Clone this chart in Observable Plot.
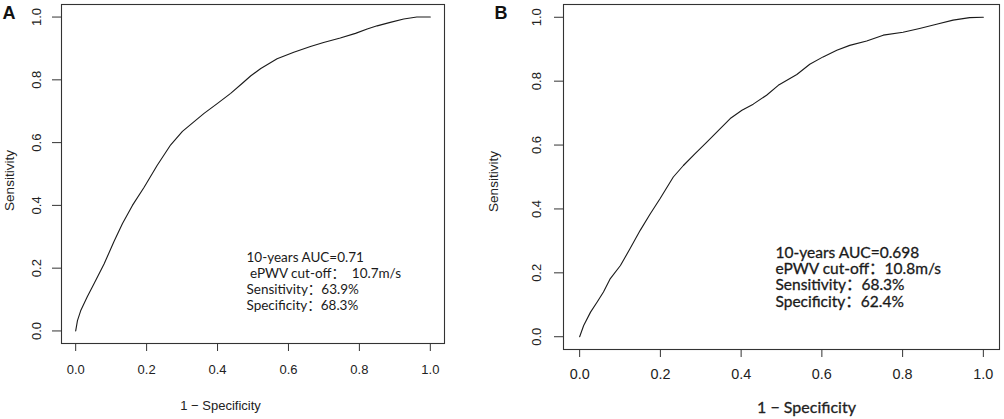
<!DOCTYPE html>
<html><head><meta charset="utf-8">
<script src="https://cdn.jsdelivr.net/npm/d3@7"></script>
<script src="https://cdn.jsdelivr.net/npm/@observablehq/plot@0.6"></script>
<style>
body{margin:0;background:#fff;}
#wrap{position:relative;width:1004px;height:419px;overflow:hidden;background:#fff;}
#wrap svg{position:absolute;top:0;overflow:visible;}
</style></head><body><div id="wrap"></div>
<script>
// ---- data ----
const ticks = [0, 0.2, 0.4, 0.6, 0.8, 1.0];
const tickLabels = ["0.0", "0.2", "0.4", "0.6", "0.8", "1.0"];
const panelLetters = ["A", "B"];
const xTitle = "1 \u2212 Specificity";
const yTitle = "Sensitivity";

const aFpr = [0, 0.005, 0.014, 0.033, 0.052, 0.080, 0.108, 0.132, 0.160, 0.193, 0.230, 0.268, 0.301, 0.334, 0.362, 0.400, 0.437, 0.470, 0.494, 0.522, 0.568, 0.615, 0.662, 0.699, 0.746, 0.789, 0.822, 0.850, 0.887, 0.925, 0.962, 1.0];
const aTpr = [0, 0.033, 0.064, 0.110, 0.151, 0.213, 0.285, 0.342, 0.400, 0.458, 0.528, 0.593, 0.636, 0.667, 0.693, 0.725, 0.757, 0.789, 0.813, 0.836, 0.867, 0.888, 0.906, 0.919, 0.933, 0.948, 0.962, 0.972, 0.983, 0.994, 1.0, 1.0];

const bFpr = [0, 0.010, 0.027, 0.043, 0.059, 0.076, 0.101, 0.125, 0.150, 0.175, 0.199, 0.232, 0.257, 0.286, 0.315, 0.344, 0.373, 0.402, 0.430, 0.463, 0.492, 0.538, 0.570, 0.603, 0.637, 0.669, 0.711, 0.752, 0.801, 0.842, 0.884, 0.925, 0.966, 1.0];
const bTpr = [0, 0.035, 0.077, 0.108, 0.140, 0.182, 0.223, 0.276, 0.333, 0.385, 0.432, 0.500, 0.536, 0.573, 0.609, 0.646, 0.683, 0.709, 0.728, 0.756, 0.787, 0.821, 0.853, 0.876, 0.897, 0.912, 0.926, 0.944, 0.953, 0.965, 0.978, 0.991, 0.999, 1.0];

const aNote = ["10-years AUC=0.71", "\u00a0ePWV cut-off\uff1a\u00a0\u00a010.7m/s", "Sensitivity\uff1a63.9%", "Specificity\uff1a68.3%"];
const bNote = ["10-years AUC=0.698", "ePWV cut-off\uff1a10.8m/s", "Sensitivity\uff1a68.3%", "Specificity\uff1a62.4%"];

const arial = "'Liberation Sans', Arial, sans-serif";
const myriad = "Lato, 'Noto Sans CJK SC', sans-serif";

function panel(o) {
  const fTop = 4;
  const mid = {textAnchor: "middle", lineAnchor: "middle"};
  const plot = Plot.plot({
    width: o.width, height: 419,
    marginLeft: o.ml, marginRight: o.mr, marginTop: fTop, marginBottom: o.mb,
    style: {fontFamily: arial, fontSize: "13px", color: "#222", background: "transparent", overflow: "visible"},
    x: {domain: [-0.04, 1.04]},
    y: {domain: [-0.04, 1.04]},
    marks: [
      Plot.frame({stroke: "#333", strokeWidth: 1.1}),
      Plot.axisX({ticks, tickSize: 8, tickFormat: () => "", label: null, stroke: "#333"}),
      Plot.axisY({ticks, tickSize: 9, tickFormat: () => "", label: null, stroke: "#333"}),
      Plot.text(ticks, {...mid, x: ticks, text: tickLabels, frameAnchor: "bottom", dy: o.xtDy, fontSize: o.xtSize, fill: "#222"}),
      Plot.text(ticks, {...mid, y: ticks, text: tickLabels, frameAnchor: "left", dx: o.ytDx, rotate: -90, fontSize: 13, fill: "#222"}),
      Plot.text([xTitle], {...mid, text: d => d, frameAnchor: "bottom", dx: o.xlDx, dy: o.xlDy, fontSize: o.xlSize, fontFamily: o.xlFont, fill: "#222", stroke: o.heavy ? "#222" : null, strokeWidth: o.heavy ? 0.3 : null}),
      Plot.text([yTitle], {...mid, text: d => d, frameAnchor: "left", dx: o.ylDx, dy: o.ylDy, rotate: -90, fontSize: 13.5, fill: "#222"}),
      Plot.text([o.letter], {text: d => d, frameAnchor: "top-left", dx: o.lDx, dy: 14.3, textAnchor: "start", lineAnchor: "bottom", fontSize: 18, fontWeight: "bold", fill: "#111"}),
      Plot.line(o.fpr, {x: o.fpr, y: o.tpr, stroke: "#1a1a1a", strokeWidth: 1.1}),
      Plot.text([o.note.join("\n")], {text: d => d, frameAnchor: "top-left", dx: o.nDx, dy: o.nDy, textAnchor: "start", lineAnchor: "bottom", lineHeight: o.nLH, fontSize: o.nSize, fontFamily: myriad, fill: "#1a1a1a", stroke: o.heavy ? "#1a1a1a" : null, strokeWidth: o.heavy ? 0.3 : null})
    ]
  });
  plot.style.left = o.left + "px";
  document.getElementById("wrap").appendChild(plot);
}

panel({letter: panelLetters[0], left: 0, width: 480, ml: 61, mr: 36, mb: 76,
  fpr: aFpr, tpr: aTpr, note: aNote, heavy: false,
  xtDy: 26, xtSize: 13, ytDx: -24.3,
  xlDx: -32.5, xlDy: 62, xlSize: 13, xlFont: arial,
  ylDx: -51.7, ylDy: 6.5, lDx: -59,
  nDx: 185, nDy: 305, nLH: 1.17, nSize: 13.5});

panel({letter: panelLetters[1], left: 480, width: 524, ml: 83, mr: 5, mb: 70,
  fpr: bFpr, tpr: bTpr, note: bNote, heavy: true,
  xtDy: 25, xtSize: 14.4, ytDx: -26.3,
  xlDx: 25, xlDy: 58, xlSize: 16, xlFont: myriad,
  ylDx: -70, ylDy: 4.5, lDx: -69,
  nDx: 212, nDy: 302, nLH: 1.05, nSize: 15.5});
</script></body></html>
